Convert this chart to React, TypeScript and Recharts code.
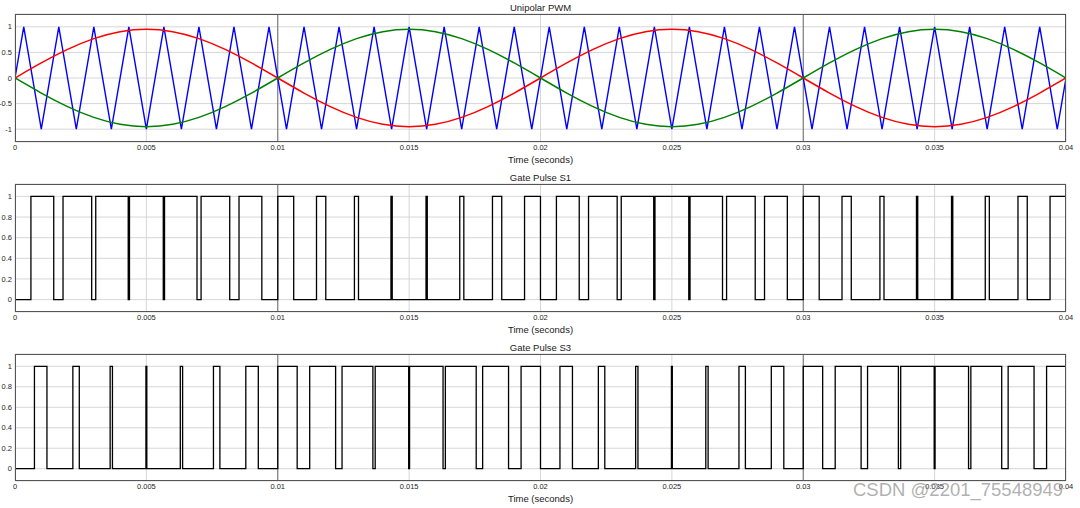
import { CartesianGrid, Line, LineChart, ReferenceLine, XAxis, YAxis } from "recharts";

const FONT = '"Liberation Sans", Arial, Helvetica, sans-serif';

// axis ticks
const timeTicks = [0, 0.005, 0.01, 0.015, 0.02, 0.025, 0.03, 0.035, 0.04];
const darkGridTimes = [0.01, 0.03];
const pwmTicks = [-1, -0.5, 0, 0.5, 1];
const gateTicks = [0, 0.2, 0.4, 0.6, 0.8, 1];

// reference waves, read every 1 ms
const sineTimes = [
  0, 0.001, 0.002, 0.003, 0.004, 0.005, 0.006, 0.007, 0.008, 0.009, 0.01,
  0.011, 0.012, 0.013, 0.014, 0.015, 0.016, 0.017, 0.018, 0.019, 0.02,
  0.021, 0.022, 0.023, 0.024, 0.025, 0.026, 0.027, 0.028, 0.029, 0.03,
  0.031, 0.032, 0.033, 0.034, 0.035, 0.036, 0.037, 0.038, 0.039, 0.04,
];
const refRed = [
  0, 0.294, 0.558, 0.769, 0.904, 0.95, 0.904, 0.769, 0.558, 0.294, 0,
  -0.294, -0.558, -0.769, -0.904, -0.95, -0.904, -0.769, -0.558, -0.294, 0,
  0.294, 0.558, 0.769, 0.904, 0.95, 0.904, 0.769, 0.558, 0.294, 0,
  -0.294, -0.558, -0.769, -0.904, -0.95, -0.904, -0.769, -0.558, -0.294, 0,
];
const refGreen = [
  0, -0.294, -0.558, -0.769, -0.904, -0.95, -0.904, -0.769, -0.558, -0.294, 0,
  0.294, 0.558, 0.769, 0.904, 0.95, 0.904, 0.769, 0.558, 0.294, 0,
  -0.294, -0.558, -0.769, -0.904, -0.95, -0.904, -0.769, -0.558, -0.294, 0,
  0.294, 0.558, 0.769, 0.904, 0.95, 0.904, 0.769, 0.558, 0.294, 0,
];

// triangle carrier corners
const carrierTimes = [
  0, 0.000333, 0.001, 0.001667, 0.002333, 0.003, 0.003667, 0.004333, 0.005,
  0.005667, 0.006333, 0.007, 0.007667, 0.008333, 0.009, 0.009667, 0.010333,
  0.011, 0.011667, 0.012333, 0.013, 0.013667, 0.014333, 0.015, 0.015667,
  0.016333, 0.017, 0.017667, 0.018333, 0.019, 0.019667, 0.020333, 0.021,
  0.021667, 0.022333, 0.023, 0.023667, 0.024333, 0.025, 0.025667, 0.026333,
  0.027, 0.027667, 0.028333, 0.029, 0.029667, 0.030333, 0.031, 0.031667,
  0.032333, 0.033, 0.033667, 0.034333, 0.035, 0.035667, 0.036333, 0.037,
  0.037667, 0.038333, 0.039, 0.039667, 0.04,
];
const carrierValues = [
  0, 1, -1, 1, -1, 1, -1, 1, -1, 1, -1, 1, -1, 1, -1, 1, -1, 1, -1, 1, -1,
  1, -1, 1, -1, 1, -1, 1, -1, 1, -1, 1, -1, 1, -1, 1, -1, 1, -1, 1, -1,
  1, -1, 1, -1, 1, -1, 1, -1, 1, -1, 1, -1, 1, -1, 1, -1, 1, -1, 1, -1, 0,
];

// gate pulse edges (s)
const s1Rise = [
  0.000606, 0.001828, 0.003073, 0.004357, 0.005691, 0.007082, 0.008526,
  0.010001, 0.011475, 0.012918, 0.014309, 0.015643, 0.016927, 0.018172,
  0.019393, 0.020606, 0.021828, 0.023073, 0.024357, 0.025691, 0.027082,
  0.028526, 0.030001, 0.031475, 0.032918, 0.034309, 0.035643, 0.036927,
  0.038172, 0.039393,
];
const s1Fall = [
  0.001474, 0.002918, 0.004309, 0.005643, 0.006927, 0.008172, 0.009394,
  0.010607, 0.011828, 0.013073, 0.014357, 0.015691, 0.017082, 0.018525,
  0.019999, 0.021474, 0.022918, 0.024309, 0.025643, 0.026927, 0.028172,
  0.029394, 0.030607, 0.031828, 0.033073, 0.034357, 0.035691, 0.037082,
  0.038525, 0.04,
];
const s3Rise = [
  0.00074, 0.002202, 0.003621, 0.004983, 0.006291, 0.007553, 0.008784, 0.01,
  0.011216, 0.012447, 0.013709, 0.015017, 0.016379, 0.017798, 0.019261,
  0.02074, 0.022202, 0.023621, 0.024983, 0.026291, 0.027553, 0.028784, 0.03,
  0.031216, 0.032447, 0.033709, 0.035017, 0.036379, 0.037798, 0.039261,
];
const s3Fall = [
  0.001216, 0.002447, 0.003709, 0.005017, 0.006379, 0.007798, 0.00926,
  0.010739, 0.012202, 0.013621, 0.014983, 0.016291, 0.017553, 0.018784, 0.02,
  0.021216, 0.022447, 0.023709, 0.025017, 0.026379, 0.027798, 0.02926,
  0.030739, 0.032202, 0.033621, 0.034983, 0.036291, 0.037553, 0.038784, 0.04,
];

type Pt = { t: number; v: number };

const zip = (ts: number[], vs: number[]): Pt[] => ts.map((t, i) => ({ t, v: vs[i] }));

function pulseTrain(rise: number[], fall: number[]): Pt[] {
  const pts: Pt[] = [{ t: 0, v: 0 }];
  rise.forEach((r, i) => {
    pts.push({ t: r, v: 1 }, { t: fall[i], v: 0 });
  });
  return pts;
}

const redData = zip(sineTimes, refRed);
const greenData = zip(sineTimes, refGreen);
const carrierData = zip(carrierTimes, carrierValues);
const s1Data = pulseTrain(s1Rise, s1Fall);
const s3Data = pulseTrain(s3Rise, s3Fall);

const W = 1080;
const LEFT = 15;
const RIGHT = 14;
const TOP = 14;

const tickStyle = { fontSize: 7.5, fill: "#262626", fontFamily: FONT };

function Panel({
  title,
  top,
  height,
  axisHeight,
  domain,
  yTicks,
  children,
}: {
  title: string;
  top: number;
  height: number;
  axisHeight: number;
  domain: [number, number];
  yTicks: number[];
  children: React.ReactNode;
}) {
  const plotH = height - TOP - axisHeight;
  const text = {
    position: "absolute" as const,
    left: LEFT,
    width: W - LEFT - RIGHT,
    textAlign: "center" as const,
    fontSize: 9.5,
    lineHeight: "10px",
    color: "#1a1a1a",
    fontFamily: FONT,
  };
  return (
    <div style={{ position: "absolute", left: 0, top, width: W, height }}>
      <LineChart width={W} height={height} margin={{ top: TOP, right: RIGHT, bottom: 0, left: 0 }}>
        <CartesianGrid stroke="#d6d6d6" strokeWidth={1} />
        <XAxis
          dataKey="t"
          type="number"
          domain={[0, 0.04]}
          ticks={timeTicks}
          interval={0}
          height={axisHeight}
          tickSize={0}
          tickMargin={3}
          axisLine={false}
          tick={tickStyle}
          allowDataOverflow
        />
        <YAxis
          type="number"
          domain={domain}
          ticks={yTicks}
          interval={0}
          width={LEFT}
          tickSize={0}
          tickMargin={3}
          axisLine={false}
          tick={tickStyle}
          allowDataOverflow
        />
        <YAxis
          yAxisId="in-left"
          type="number"
          domain={domain}
          ticks={yTicks}
          interval={0}
          mirror
          width={10}
          tickSize={10}
          axisLine={false}
          tickLine={{ stroke: "#5a5a5a" }}
          tickFormatter={() => ""}
        />
        <YAxis
          yAxisId="in-right"
          orientation="right"
          type="number"
          domain={domain}
          ticks={yTicks}
          interval={0}
          mirror
          width={10}
          tickSize={10}
          axisLine={false}
          tickLine={{ stroke: "#5a5a5a" }}
          tickFormatter={() => ""}
        />
        {darkGridTimes.map((t) => (
          <ReferenceLine key={t} x={t} stroke="#6e6e6e" strokeWidth={1} />
        ))}
        {children}
      </LineChart>
      <div
        style={{
          position: "absolute",
          left: LEFT,
          top: TOP,
          width: W - LEFT - RIGHT,
          height: plotH,
          border: "1px solid #555",
          boxSizing: "border-box",
          pointerEvents: "none",
        }}
      />
      <div style={{ ...text, top: TOP - 11 }}>{title}</div>
      <div style={{ ...text, top: TOP + plotH + 13 }}>Time (seconds)</div>
    </div>
  );
}

export default function App() {
  return (
    <div
      style={{
        position: "absolute",
        left: 0,
        top: 0,
        width: W,
        height: 508,
        background: "#fff",
        overflow: "hidden",
      }}
    >
      <Panel title="Unipolar PWM" top={0} height={170} axisHeight={28} domain={[-1.25, 1.25]} yTicks={pwmTicks}>
        <Line data={carrierData} dataKey="v" type="linear" stroke="#0000ff" strokeWidth={1.4} dot={false} isAnimationActive={false} />
        <Line data={redData} dataKey="v" type="natural" stroke="#ff0000" strokeWidth={1.5} dot={false} isAnimationActive={false} />
        <Line data={greenData} dataKey="v" type="natural" stroke="#008000" strokeWidth={1.5} dot={false} isAnimationActive={false} />
      </Panel>
      <Panel title="Gate Pulse S1" top={170} height={170} axisHeight={28} domain={[-0.12, 1.12]} yTicks={gateTicks}>
        <Line data={s1Data} dataKey="v" type="stepAfter" stroke="#000" strokeWidth={1.3} dot={false} isAnimationActive={false} />
      </Panel>
      <Panel title="Gate Pulse S3" top={340} height={168} axisHeight={27} domain={[-0.12, 1.12]} yTicks={gateTicks}>
        <Line data={s3Data} dataKey="v" type="stepAfter" stroke="#000" strokeWidth={1.3} dot={false} isAnimationActive={false} />
      </Panel>
      <div
        style={{
          position: "absolute",
          left: 853,
          top: 479,
          fontSize: 18.5,
          lineHeight: "22px",
          color: "rgba(150,150,150,0.75)",
          fontFamily: FONT,
          whiteSpace: "nowrap",
          pointerEvents: "none",
        }}
      >
        CSDN @2201_75548949
      </div>
    </div>
  );
}
